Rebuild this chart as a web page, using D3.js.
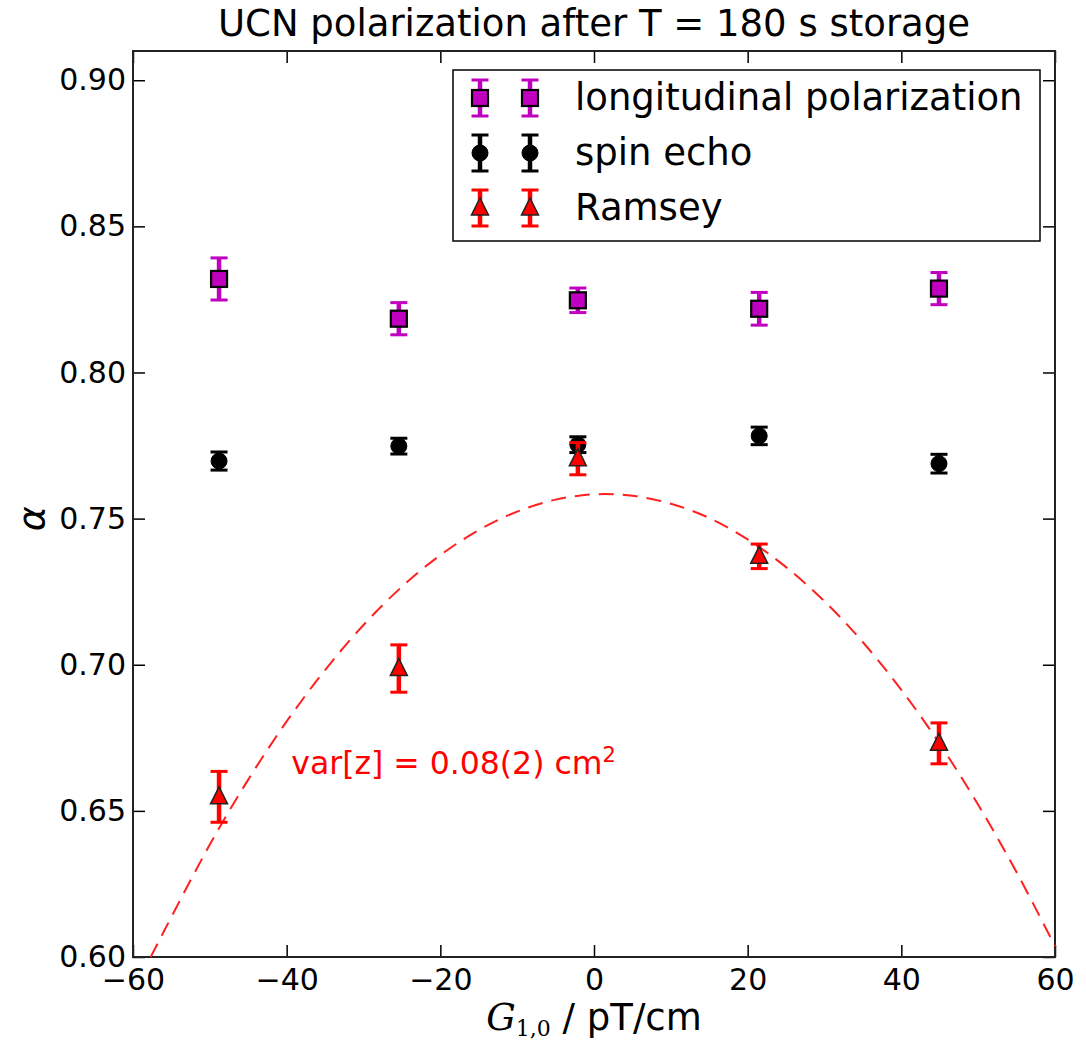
<!DOCTYPE html>
<html>
<head>
<meta charset="utf-8">
<script src="https://cdn.jsdelivr.net/npm/d3@7"></script>
<style>
    body { margin:0; background:#fff; }
    text { font-family:"DejaVu Sans", sans-serif; }
</style>
</head>
<body>
<div id="chart-area"></div>
<script>
// UCN polarization after T = 180 s storage

var gradients = [-48.8, -25.4, -2.1, 21.5, 44.9];

var longPol = [0.832, 0.8184, 0.8247, 0.8218, 0.8287];
var longErr = [0.0072, 0.0055, 0.0042, 0.0056, 0.0055];

var spinEcho = [0.7697, 0.7748, 0.7753, 0.7783, 0.7688];
var spinErr = [0.0031, 0.0027, 0.0027, 0.0030, 0.0032];

var ramsey = [0.6548, 0.6987, 0.7705, 0.7371, 0.6731];
var ramseyErr = [0.0087, 0.0081, 0.0055, 0.0042, 0.0070];

// dashed fit line
var fitX = [-57.7, -50, -45, -40, -35, -30, -25, -20, -15, -10, -5, 0, 5, 10, 15, 20, 25, 30, 35, 40, 45, 50, 55, 60];
var fitY = [0.600, 0.6385, 0.6607, 0.6806, 0.6982, 0.7136, 0.7267, 0.7375, 0.7461, 0.7524, 0.7565, 0.7583, 0.7578, 0.7551, 0.7502, 0.7429, 0.7334, 0.7217, 0.7077, 0.6914, 0.6729, 0.6521, 0.6290, 0.6037];

var xTicks = [-60, -40, -20, 0, 20, 40, 60];
var yTicks = [0.60, 0.65, 0.70, 0.75, 0.80, 0.85, 0.90];

var seriesNames = ["longitudinal polarization", "spin echo", "Ramsey"];

var margin = { left:133, right:31, top:51, bottom:92 };
var width = 1086 - margin.left - margin.right;
var height = 1049 - margin.top - margin.bottom;

var svg = d3.select("#chart-area")
    .append("svg")
        .attr("width", 1086)
        .attr("height", 1049);

var g = svg.append("g")
        .attr("transform", "translate(" + margin.left + "," + margin.top + ")");

var xscale = d3.scaleLinear().domain([-60, 60]).range([0, width]);
var yscale = d3.scaleLinear().domain([0.60, 0.91]).range([height, 0]);

// axes, ticks pointing inside on all four sides
var tickLen = 12;
g.append("g")
    .attr("transform", "translate(0," + height + ")")
    .call(d3.axisBottom(xscale).tickValues(xTicks).tickSizeInner(-tickLen).tickSizeOuter(0).tickPadding(12).tickFormat(d3.format("d")));
g.append("g")
    .call(d3.axisTop(xscale).tickValues(xTicks).tickSizeInner(-tickLen).tickSizeOuter(0).tickFormat(""));
g.append("g")
    .call(d3.axisLeft(yscale).tickValues(yTicks).tickSizeInner(-tickLen).tickSizeOuter(0).tickPadding(7).tickFormat(d3.format(".2f")));
g.append("g")
    .attr("transform", "translate(" + width + ",0)")
    .call(d3.axisRight(yscale).tickValues(yTicks).tickSizeInner(-tickLen).tickSizeOuter(0).tickFormat(""));

g.selectAll(".domain").remove();
g.selectAll(".tick line").attr("stroke", "#000").attr("stroke-width", 1.5);
g.selectAll(".tick text")
    .attr("font-family", "DejaVu Sans")
    .attr("font-size", 30)
    .attr("fill", "#000");

g.append("rect")
    .attr("width", width)
    .attr("height", height)
    .attr("fill", "none")
    .attr("stroke", "#222")
    .attr("stroke-width", 2);

// fit curve
var plot = g.append("g");
var fitData = fitX.map(function(d, i){ return [d, fitY[i]]; });
plot.append("path")
    .datum(fitData)
    .attr("fill", "none")
    .attr("stroke", "#ff2020")
    .attr("stroke-width", 2)
    .attr("stroke-dasharray", "15,9")
    .attr("d", d3.line()
        .x(function(d){ return xscale(d[0]); })
        .y(function(d){ return yscale(d[1]); })
        .curve(d3.curveCatmullRom));

function errorBars(sel, vals, errs, color, lw){
    var eb = sel.append("g");
    gradients.forEach(function(x, i){
        var cx = xscale(x);
        eb.append("line")
            .attr("x1", cx).attr("x2", cx)
            .attr("y1", yscale(vals[i] - errs[i])).attr("y2", yscale(vals[i] + errs[i]))
            .attr("stroke", color).attr("stroke-width", lw);
        [vals[i] - errs[i], vals[i] + errs[i]].forEach(function(v){
            eb.append("line")
                .attr("x1", cx - 8.5).attr("x2", cx + 8.5)
                .attr("y1", yscale(v)).attr("y2", yscale(v))
                .attr("stroke", color).attr("stroke-width", 3);
        });
    });
}

function squareMark(sel, cx, cy){
    sel.append("rect")
        .attr("x", cx - 8).attr("y", cy - 8)
        .attr("width", 16).attr("height", 16)
        .attr("fill", "#bf00bf").attr("stroke", "#000").attr("stroke-width", 2.2);
}
function circleMark(sel, cx, cy){
    sel.append("circle")
        .attr("cx", cx).attr("cy", cy).attr("r", 8)
        .attr("fill", "#000").attr("stroke", "#000").attr("stroke-width", 1);
}
function triMark(sel, cx, cy){
    sel.append("path")
        .attr("d", "M" + cx + "," + (cy - 10) + "L" + (cx + 8.5) + "," + (cy + 7) + "L" + (cx - 8.5) + "," + (cy + 7) + "Z")
        .attr("fill", "#ff0000").attr("stroke", "#222").attr("stroke-width", 1.5);
}

// longitudinal polarization
errorBars(plot, longPol, longErr, "#bf00bf", 4.5);
gradients.forEach(function(x, i){ squareMark(plot, xscale(x), yscale(longPol[i])); });

// spin echo
errorBars(plot, spinEcho, spinErr, "#000", 4.5);
gradients.forEach(function(x, i){ circleMark(plot, xscale(x), yscale(spinEcho[i])); });

// Ramsey
errorBars(plot, ramsey, ramseyErr, "#ff0000", 4.5);
gradients.forEach(function(x, i){ triMark(plot, xscale(x), yscale(ramsey[i])); });

// annotation
var ann = g.append("text")
    .attr("x", xscale(-39.4))
    .attr("y", yscale(0.6626))
    .attr("font-size", 31.5)
    .attr("fill", "#ff0000")
    .text("var[z] = 0.08(2) cm");
ann.append("tspan")
    .attr("font-size", 21)
    .attr("dy", -12)
    .text("2");

// legend
var legend = svg.append("g").attr("transform", "translate(453,70)");
legend.append("rect")
    .attr("width", 587).attr("height", 171)
    .attr("fill", "#fff").attr("stroke", "#000").attr("stroke-width", 1.5);

var legendColors = ["#bf00bf", "#000", "#ff0000"];
var legendMarks = [squareMark, circleMark, triMark];
seriesNames.forEach(function(name, i){
    var ly = 28 + i * 55;
    [27, 77].forEach(function(lx){
        legend.append("line")
            .attr("x1", lx).attr("x2", lx).attr("y1", ly - 18).attr("y2", ly + 18)
            .attr("stroke", legendColors[i]).attr("stroke-width", 4.5);
        [ly - 18, ly + 18].forEach(function(cy){
            legend.append("line")
                .attr("x1", lx - 8.5).attr("x2", lx + 8.5).attr("y1", cy).attr("y2", cy)
                .attr("stroke", legendColors[i]).attr("stroke-width", 3);
        });
        legendMarks[i](legend, lx, ly);
    });
    legend.append("text")
        .attr("x", 122)
        .attr("y", ly + 12)
        .attr("font-size", 37)
        .attr("fill", "#000")
        .text(name);
});

// title and axis labels
svg.append("text")
    .attr("x", margin.left + width / 2)
    .attr("y", 36)
    .attr("text-anchor", "middle")
    .attr("font-size", 37)
    .text("UCN polarization after T = 180 s storage");

var xl = svg.append("text")
    .attr("x", margin.left + width / 2)
    .attr("y", 1030)
    .attr("text-anchor", "middle")
    .attr("font-size", 37);
xl.append("tspan")
    .attr("font-family", "DejaVu Serif")
    .attr("font-style", "italic")
    .text("G");
xl.append("tspan")
    .attr("font-family", "DejaVu Serif")
    .attr("font-size", 22)
    .attr("dy", 6)
    .text("1,0");
xl.append("tspan")
    .attr("dy", -6)
    .text(" / pT/cm");

svg.append("text")
    .attr("transform", "translate(44," + (margin.top + yscale(0.75)) + ") rotate(-90)")
    .attr("text-anchor", "middle")
    .attr("font-family", "DejaVu Serif")
    .attr("font-style", "italic")
    .attr("font-size", 38)
    .text("α");
</script>
</body>
</html>
